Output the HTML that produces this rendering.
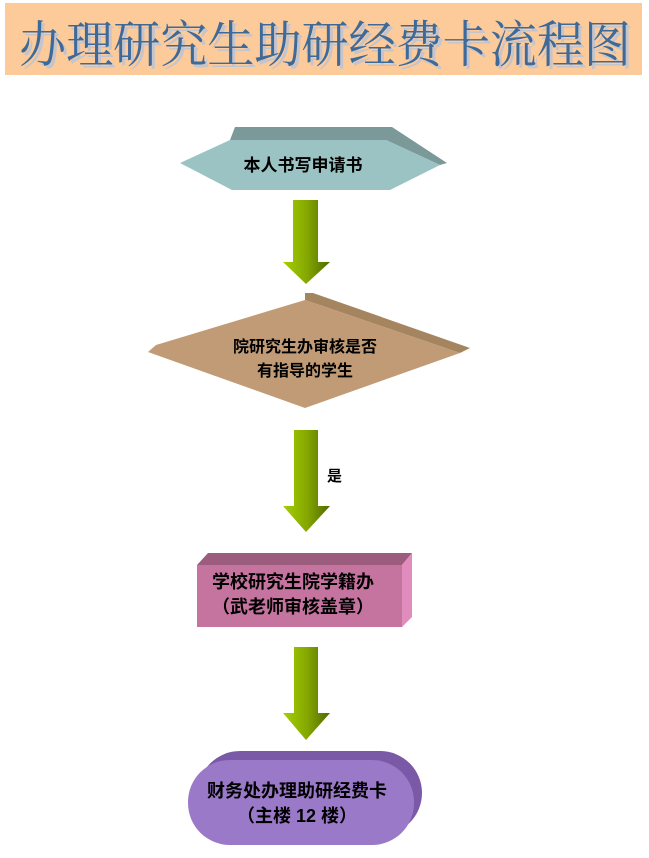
<!DOCTYPE html>
<html><head><meta charset="utf-8"><style>
body{margin:0;background:#fff;width:649px;height:853px;overflow:hidden}
svg text{font-family:"Liberation Sans","Noto Sans CJK SC",sans-serif}
svg text.t{font-family:"Liberation Serif","Noto Serif CJK SC",serif}
</style></head><body>
<svg width="649" height="853" viewBox="0 0 649 853" xmlns="http://www.w3.org/2000/svg">
<defs>
<linearGradient id="g" x1="0" x2="1" y1="0" y2="0">
<stop offset="0" stop-color="#a6d000"/><stop offset="0.5" stop-color="#86a800"/><stop offset="1" stop-color="#4f6a00"/>
</linearGradient>
</defs>
<rect x="5" y="3" width="637" height="72" fill="#fdca9a"/>
<text class="t" x="325" y="62" text-anchor="middle" font-size="50" fill="#c4c4cc" transform="translate(3,3)" textLength="612" lengthAdjust="spacingAndGlyphs">办理研究生助研经费卡流程图</text>
<text class="t" x="325" y="62" text-anchor="middle" font-size="50" fill="#3f6a98" textLength="612" lengthAdjust="spacingAndGlyphs">办理研究生助研经费卡流程图</text>

<polygon points="235,127 392,127 447,163 440,165 386,140 230,140" fill="#7b9999"/>
<polygon points="180,163 230,140 386,140 440,165 390,190 232,190" fill="#9bc3c4"/>
<text x="303" y="171" text-anchor="middle" font-size="17" font-weight="bold" fill="#000">本人书写申请书</text>

<polygon points="293,200 318,200 318,262 330,262 306,284 283,262 293,262" fill="url(#g)"/>

<polygon points="305,293 313,293 470,348 460,353 305,300" fill="#a5855f"/>
<polygon points="148,352 156,345 305,300 460,353 305,408" fill="#c19b75"/>
<text x="305" y="352" text-anchor="middle" font-size="16" font-weight="bold" fill="#000">院研究生办审核是否</text>
<text x="305" y="376" text-anchor="middle" font-size="16" font-weight="bold" fill="#000">有指导的学生</text>

<polygon points="294,430 318,430 318,506 330,506 306,532 283,506 294,506" fill="url(#g)"/>
<text x="327" y="481" font-size="15" font-weight="bold" fill="#000">是</text>

<polygon points="197,565 208,553 412,553 402,565" fill="#9c5c7e"/>
<polygon points="402,565 412,553 412,617 402,627" fill="#e08cbc"/>
<rect x="197" y="565" width="205" height="62" fill="#c5749f"/>
<text x="293" y="588" text-anchor="middle" font-size="18" font-weight="bold" fill="#000">学校研究生院学籍办</text>
<text x="293" y="613" text-anchor="middle" font-size="18" font-weight="bold" fill="#000">（武老师审核盖章）</text>

<polygon points="294,647 318,647 318,713 330,713 306,740 283,713 294,713" fill="url(#g)"/>

<rect x="198" y="751" width="224" height="84" rx="42" fill="#7a5aa6"/>
<rect x="188" y="760" width="226" height="85" rx="42" fill="#9b79c9"/>
<text x="297" y="797" text-anchor="middle" font-size="18" font-weight="bold" fill="#000">财务处办理助研经费卡</text>
<text x="297" y="822" text-anchor="middle" font-size="18" font-weight="bold" fill="#000">（主楼 12 楼）</text>
</svg>
</body></html>
